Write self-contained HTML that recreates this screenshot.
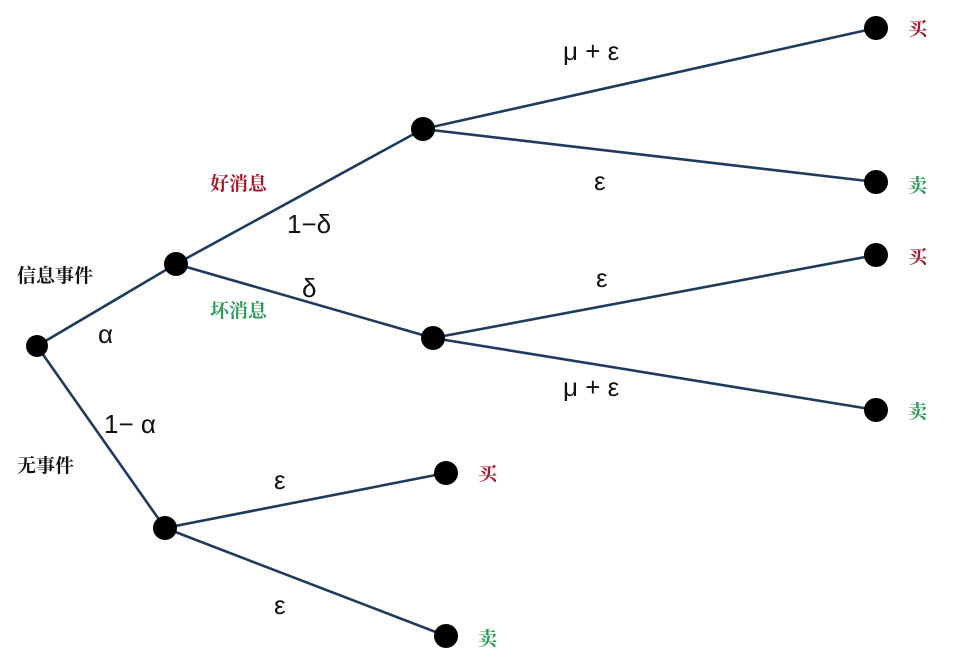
<!DOCTYPE html>
<html><head><meta charset="utf-8"><style>
html,body{margin:0;padding:0;background:#fff;width:954px;height:660px;overflow:hidden}
svg text{font-family:"Liberation Sans","DejaVu Sans",sans-serif}
.c{font-family:"Liberation Serif","Noto Serif CJK SC",serif;font-weight:bold}
</style></head><body>
<svg width="954" height="660" viewBox="0 0 954 660" xmlns="http://www.w3.org/2000/svg">
<g stroke="#1f3a5a" stroke-width="2.6" fill="none">
<line x1="37" y1="346" x2="176" y2="264"/>
<line x1="37" y1="346" x2="165" y2="528"/>
<line x1="176" y1="264" x2="423" y2="129"/>
<line x1="176" y1="264" x2="433" y2="338"/>
<line x1="423" y1="129" x2="876" y2="28"/>
<line x1="423" y1="129" x2="876" y2="182"/>
<line x1="433" y1="338" x2="876" y2="255"/>
<line x1="433" y1="338" x2="876" y2="410"/>
<line x1="165" y1="528" x2="446" y2="473"/>
<line x1="165" y1="528" x2="446" y2="636"/>
</g>
<g fill="#000">
<circle cx="37" cy="346" r="11"/>
<circle cx="176" cy="264" r="12"/>
<circle cx="165" cy="528" r="12"/>
<circle cx="423" cy="129" r="12"/>
<circle cx="433" cy="338" r="12"/>
<circle cx="876" cy="28" r="12"/>
<circle cx="876" cy="182" r="12"/>
<circle cx="876" cy="255" r="12"/>
<circle cx="876" cy="410" r="12"/>
<circle cx="446" cy="473" r="12"/>
<circle cx="446" cy="636" r="12"/>
</g>
<g font-size="26" fill="#111">
<text x="563" y="60">μ + ε</text>
<text x="594" y="190">ε</text>
<text x="287" y="233">1−δ</text>
<text x="302" y="297">δ</text>
<text x="596" y="287">ε</text>
<text x="563" y="396">μ + ε</text>
<text x="98" y="343">α</text>
<text x="104" y="433">1−  α</text>
<text x="274" y="489">ε</text>
<text x="274" y="614">ε</text>
</g>
<g font-size="19">
<text class="c" x="17" y="282" fill="#111">信息事件</text>
<text class="c" x="17" y="472" fill="#111">无事件</text>
<text class="c" x="210" y="190" fill="#a0182a">好消息</text>
<text class="c" x="210" y="317" fill="#2e9a5a">坏消息</text>
<text class="c" x="908" y="35" fill="#a0182a">买</text>
<text class="c" x="908" y="192" fill="#2e9a5a">卖</text>
<text class="c" x="908" y="263" fill="#a0182a">买</text>
<text class="c" x="908" y="418" fill="#2e9a5a">卖</text>
<text class="c" x="478" y="480" fill="#a0182a">买</text>
<text class="c" x="478" y="645" fill="#2e9a5a">卖</text>
</g>
</svg>
</body></html>
